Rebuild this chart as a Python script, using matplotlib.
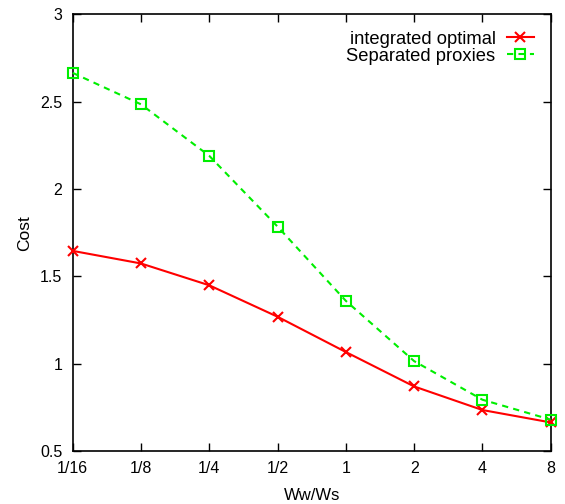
import matplotlib
matplotlib.use("Agg")
import matplotlib.pyplot as plt

ratio_labels = ["1/16", "1/8", "1/4", "1/2", "1", "2", "4", "8"]
integrated_optimal = [1.646, 1.574, 1.449, 1.269, 1.067, 0.870, 0.735, 0.664]
separated_proxies = [2.665, 2.485, 2.19, 1.785, 1.36, 1.015, 0.794, 0.68]
y_ticks = [0.5, 1, 1.5, 2, 2.5, 3]

plt.rcParams["font.family"] = ["Liberation Sans", "DejaVu Sans"]

fig = plt.figure(figsize=(5.65, 5.04), dpi=100)
ax = fig.add_axes([0.1287, 0.105, 0.846, 0.8665])

x = list(range(len(ratio_labels)))
ax.plot(x, integrated_optimal, color="#ff0000", lw=1.5, marker="x",
        ms=7, mew=1.5, label="integrated optimal", clip_on=False, zorder=3)
ax.plot(x, separated_proxies, color="#00ee00", lw=1.5, ls=(0, (3, 2.5)),
        marker="s", ms=7, mfc="none", mew=1.5, label="Separated proxies",
        clip_on=False, zorder=3)

ax.set_xlim(0, 7)
ax.set_ylim(0.5, 3)
ax.set_xticks(x)
ax.set_xticklabels(ratio_labels)
ax.set_yticks(y_ticks)
ax.set_yticklabels(["0.5", "1", "1.5", "2", "2.5", "3"])
ax.tick_params(direction="in", top=True, right=True, length=6, width=1,
               labelsize=11.5, pad=7.5)
for s in ax.spines.values():
    s.set_linewidth(1.2)

ax.set_xlabel("Ww/Ws", fontsize=12, labelpad=8.5)
ax.set_ylabel("Cost", fontsize=12.5, labelpad=6)

ax.legend(loc="upper right", bbox_to_anchor=(0.99, 0.99), frameon=False,
          markerfirst=False, fontsize=13.2, handlelength=1.5,
          borderaxespad=0.25, labelspacing=0.0, handletextpad=0.6)

fig.savefig("out.png", dpi=100)
